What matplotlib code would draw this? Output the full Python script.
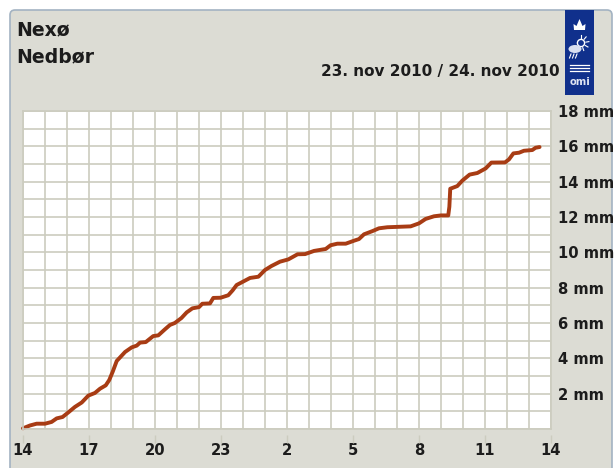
import numpy as np
import matplotlib
matplotlib.use("Agg")
import matplotlib.pyplot as plt
from matplotlib.patches import FancyBboxPatch, Rectangle, Circle, Polygon, Ellipse

hours = [0, .32, .62, 1.0, 1.3, 1.53, 1.8, 2.06, 2.36, 2.67, 2.97, 3.27, 3.5, 3.76, 3.92, 4.08, 4.26, 4.64,
         4.94, 5.17, 5.32, 5.58, 5.92, 6.15, 6.45, 6.68, 6.9, 7.2, 7.44, 7.7, 8.0, 8.15, 8.5, 8.65, 8.98,
         9.33, 9.53, 9.71, 10.0, 10.32, 10.7, 11.0, 11.3, 11.68, 12.06, 12.48, 12.82, 13.23, 13.76, 13.98,
         14.29, 14.67, 15.05, 15.27, 15.5, 15.88, 16.18, 16.56, 17.62, 18.0, 18.3, 18.68, 19.0, 19.33,
         19.38, 19.42, 19.74, 19.97, 20.3, 20.65, 21.03, 21.29, 21.91, 22.09, 22.29, 22.55, 22.77, 23.15,
         23.3, 23.48]
rain_mm = [.04, .2, .3, .3, .4, .6, .68, .94, 1.25, 1.5, 1.89, 2.04, 2.28, 2.47, 2.77, 3.25, 3.85, 4.36,
           4.62, 4.72, 4.89, 4.92, 5.26, 5.3, 5.64, 5.89, 6.0, 6.28, 6.6, 6.83, 6.9, 7.09, 7.11, 7.42, 7.43,
           7.57, 7.85, 8.15, 8.34, 8.55, 8.62, 9.0, 9.23, 9.47, 9.6, 9.89, 9.9, 10.08, 10.19, 10.4,
           10.49, 10.49, 10.66, 10.75, 11.02, 11.2, 11.36, 11.42, 11.47, 11.64, 11.89, 12.04, 12.09, 12.09,
           12.58, 13.6, 13.75, 14.06, 14.4, 14.49, 14.75, 15.08, 15.09, 15.26, 15.6, 15.64, 15.75, 15.79,
           15.92, 15.96]
x_ticks = [0, 3, 6, 9, 12, 15, 18, 21, 24]
x_labels = ['14', '17', '20', '23', '2', '5', '8', '11', '14']
y_ticks = [2, 4, 6, 8, 10, 12, 14, 16, 18]
y_labels = ['2 mm', '4 mm', '6 mm', '8 mm', '10 mm', '12 mm', '14 mm', '16 mm', '18 mm']

W, H = 614, 468
PANEL = '#dcdcd4'
GRID = '#ccccbf'
LINE = '#a83c14'
TXT = '#1c1c1c'
fig = plt.figure(figsize=(W / 100, H / 100), dpi=100, facecolor='white')
plt.rcParams['font.family'] = 'DejaVu Sans'

bg = fig.add_axes([0, 0, 1, 1], zorder=0)
bg.set_xlim(0, W); bg.set_ylim(H, 0); bg.axis('off')
bg.add_patch(FancyBboxPatch((14, 14), 594, H + 20, boxstyle='round,pad=4,rounding_size=5',
                            fc=PANEL, ec='#a3b3c2', lw=1.2, clip_on=True))
bg.text(16, 30, 'Nexø', fontsize=13.6, color=TXT, va='center', ha='left', fontweight='bold')
bg.text(16, 56.5, 'Nedbør', fontsize=13.6, color=TXT, va='center', ha='left', fontweight='bold')
bg.text(321, 71.5, '23. nov 2010 / 24. nov 2010', fontsize=11.0, color=TXT, va='center', ha='left',
        fontweight='bold')

# DMI logo
BLUE = '#10308c'
bg.add_patch(Rectangle((565, 10), 29, 84.5, fc=BLUE, ec='none'))
bg.add_patch(Polygon([(574, 30), (585, 30), (585.5, 24), (582.5, 26), (579.5, 19),
                      (576.5, 26), (573.5, 24)], fc='white', ec='none'))
bg.add_patch(Circle((581, 43), 3.6, fc='none', ec='white', lw=1))
for a in np.deg2rad([-90, -50, -10, 30, 70]):
    bg.plot([581 + 5 * np.cos(a), 581 + 8 * np.cos(a)], [43 + 5 * np.sin(a), 43 + 8 * np.sin(a)], color='white', lw=.8)
bg.add_patch(Ellipse((575, 49), 13, 8, fc='#d8dff0', ec='none'))
for dx in (-3, 0, 3):
    bg.plot([574 + dx, 572.5 + dx], [54, 58], color='white', lw=.8)
for yy in (65, 68, 71):
    bg.plot([570, 589], [yy, yy], color='white', lw=.9)
bg.text(579.5, 82, 'omi', fontsize=7.2, color='#dfe4f2', fontweight='bold', ha='center', va='center')

# Chart
L, R, T, B = 23, 551, 111, 429
ax = fig.add_axes([L / W, 1 - B / H, (R - L) / W, (B - T) / H], zorder=1)
ax.set_xlim(0, 24); ax.set_ylim(0, 18)
ax.set_facecolor('white')
ax.set_xticks(np.arange(0, 25)); ax.set_yticks(np.arange(0, 19))
ax.grid(True, color=GRID, lw=1.2)
ax.set_axisbelow(True)
ax.tick_params(length=0, labelbottom=False, labelleft=False)
for s in ax.spines.values():
    s.set_color(GRID); s.set_linewidth(1.2)
ax.plot(hours, rain_mm, color=LINE, lw=2.8, solid_joinstyle='round', solid_capstyle='round', clip_on=False)

ax2 = fig.add_axes(ax.get_position(), zorder=2, frameon=False)
ax2.set_xlim(0, 24); ax2.set_ylim(0, 18)
ax2.set_xticks(x_ticks, x_labels, fontsize=10.6, color=TXT, fontweight='bold')
ax2.tick_params(axis='x', length=0, pad=10)
ax2.vlines(x_ticks, -0.79, -0.34, color=GRID, lw=1, clip_on=False)
ax2.yaxis.tick_right()
ax2.set_yticks(y_ticks, y_labels, fontsize=10.6, color=TXT, fontweight='bold')
ax2.tick_params(axis='y', length=0, pad=5)

fig.savefig('out.png', dpi=100, facecolor='white')
